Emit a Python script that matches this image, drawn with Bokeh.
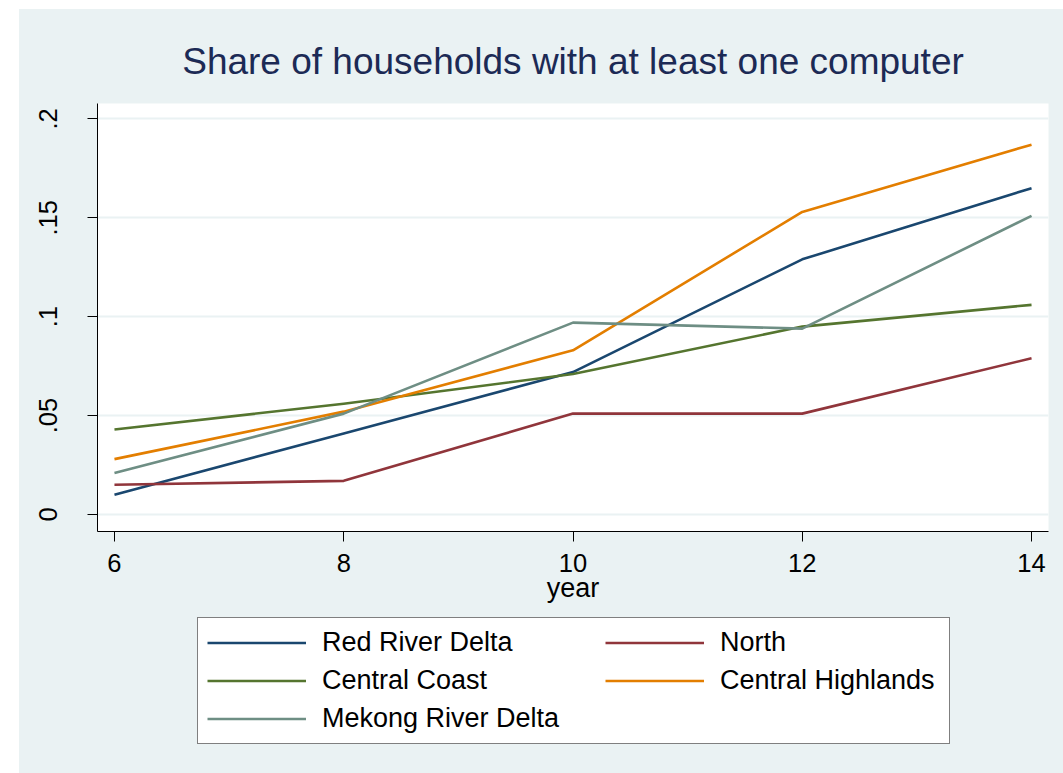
from bokeh.plotting import figure
from bokeh.models import Range1d, FixedTicker, Legend, LegendItem, Spacer
from bokeh.layouts import row, column
from bokeh.embed import file_html
from bokeh.resources import INLINE

# ---- data ----
years = [6, 8, 10, 12, 14]
red_river_delta = [0.010, 0.041, 0.072, 0.129, 0.165]
north = [0.015, 0.017, 0.051, 0.051, 0.079]
central_coast = [0.043, 0.056, 0.071, 0.095, 0.106]
central_highlands = [0.028, 0.052, 0.083, 0.153, 0.187]
mekong_river_delta = [0.021, 0.051, 0.097, 0.094, 0.151]

series_names = ["Red River Delta", "North", "Central Coast",
                "Central Highlands", "Mekong River Delta"]
series_values = [red_river_delta, north, central_coast,
                 central_highlands, mekong_river_delta]
series_colors = ["#1A476F", "#90353B", "#55752F", "#E37E00", "#6E8E84"]

x_ticks = [6, 8, 10, 12, 14]
y_ticks = [0, 0.05, 0.1, 0.15, 0.2]
y_tick_labels = ["0", ".05", ".1", ".15", ".2"]

BG = "#EAF2F3"
FONT = "Liberation Sans"

# ---------------- main chart ----------------
p = figure(width=1044, height=606, output_backend="svg", toolbar_location=None,
           x_range=Range1d(5.852, 14.148), y_range=Range1d(-0.0086, 0.2078),
           min_border_left=78, min_border_right=15, min_border_top=94,
           min_border_bottom=84,
           title="Share of households with at least one computer")

p.border_fill_color = BG
p.background_fill_color = "white"
p.outline_line_color = None

p.title.align = "center"
p.title.text_font = FONT
p.title.text_font_size = "37px"
p.title.text_font_style = "normal"
p.title.text_color = "#1C2A55"
p.title.standoff = 44

for name, vals, col in zip(series_names, series_values, series_colors):
    p.line(years, vals, line_color=col, line_width=2.6, line_join="round")

for ax in (p.xaxis[0], p.yaxis[0]):
    ax.axis_line_color = "black"
    ax.axis_line_width = 1
    ax.major_tick_line_color = "black"
    ax.major_tick_out = 10
    ax.major_tick_in = 0
    ax.minor_tick_line_color = None
    ax.major_label_text_font = FONT
    ax.major_label_text_font_size = "25.5px"
    ax.major_label_text_color = "black"

p.xaxis.ticker = FixedTicker(ticks=x_ticks)
p.xaxis.major_label_standoff = 12
p.xaxis.axis_label = "year"
p.xaxis.axis_label_text_font = FONT
p.xaxis.axis_label_text_font_size = "27px"
p.xaxis.axis_label_text_font_style = "normal"
p.xaxis.axis_label_text_color = "black"
p.xaxis.axis_label_standoff = -2

p.yaxis.ticker = FixedTicker(ticks=y_ticks)
p.yaxis.major_label_overrides = {t: l for t, l in zip(y_ticks, y_tick_labels)}
p.yaxis.major_label_orientation = "vertical"
p.yaxis.major_label_standoff = 30

p.xgrid.visible = False
p.ygrid.ticker = FixedTicker(ticks=y_ticks)
p.ygrid.grid_line_color = BG
p.ygrid.grid_line_width = 2

# ---------------- legend strip ----------------
q = figure(width=1044, height=158, output_backend="svg", toolbar_location=None,
           x_range=Range1d(0, 1), y_range=Range1d(0, 1),
           x_axis_location=None, y_axis_location=None, min_border=0)
q.border_fill_color = BG
q.background_fill_color = BG
q.outline_line_color = None
q.grid.visible = False

key_renderers = []
for name, vals, col in zip(series_names, series_values, series_colors):
    r = q.line(years, vals, line_color=col, line_width=2.6, visible=False)
    key_renderers.append(r)

col1 = [0, 2, 4]
col2 = [1, 3]

def style(lg):
    lg.label_text_font = FONT
    lg.label_text_font_size = "27px"
    lg.label_text_color = "black"
    lg.glyph_width = 99
    lg.glyph_height = 31
    lg.label_height = 31
    lg.label_standoff = 16
    lg.spacing = 7
    lg.padding = 9
    lg.margin = 0
    lg.click_policy = "none"

legend_a = Legend(items=[LegendItem(label=series_names[i], renderers=[key_renderers[i]]) for i in col1],
                  location=(100, 29))
style(legend_a)
legend_a.label_width = 618
legend_a.border_line_color = "black"
legend_a.border_line_width = 1
legend_a.background_fill_color = "white"
legend_a.background_fill_alpha = 1.0

legend_b = Legend(items=[LegendItem(label=series_names[i], renderers=[key_renderers[i]]) for i in col2],
                  location=(499, 68))
style(legend_b)
legend_b.border_line_alpha = 0
legend_b.background_fill_alpha = 0

q.add_layout(legend_a, "center")
q.add_layout(legend_b, "center")

chart = column(p, q, spacing=0, styles={"background-color": BG})
layout = column(Spacer(height=9),
                row(Spacer(width=19), chart, spacing=0),
                spacing=0)

open("out.html", "w").write(file_html(layout, INLINE))
